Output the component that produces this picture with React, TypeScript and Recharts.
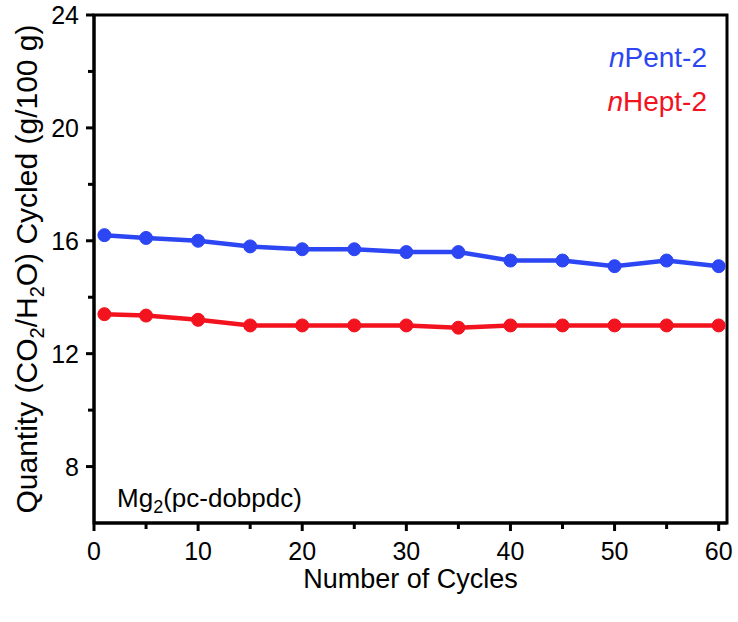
import React from 'react';
import { LineChart, Line, XAxis, YAxis, ReferenceArea, Legend } from 'recharts';

const cycles = [1, 5, 10, 15, 20, 25, 30, 35, 40, 45, 50, 55, 60];
const nPent2 = [16.2, 16.1, 16.0, 15.8, 15.7, 15.7, 15.6, 15.6, 15.3, 15.3, 15.1, 15.3, 15.1];
const nHept2 = [13.4, 13.35, 13.2, 13.0, 13.0, 13.0, 13.0, 12.92, 13.0, 13.0, 13.0, 13.0, 13.0];
const xTicks = [0, 5, 10, 15, 20, 25, 30, 35, 40, 45, 50, 55, 60];
const yTicks = [8, 10, 12, 14, 16, 18, 20, 22, 24];
const xDomain = [0, 60.8];
const yDomain = [6, 24];

const BLUE = '#2b46f2';
const RED = '#f2131f';
const FONT = '"Liberation Sans", Arial, sans-serif';

const data = cycles.map((c, i) => ({ cycle: c, pent: nPent2[i], hept: nHept2[i] }));

const XTick = (props: any) => {
  const { x, y, payload } = props;
  const major = payload.value % 10 === 0;
  return (
    <g>
      <line x1={x} x2={x} y1={y} y2={y + (major ? 8 : 6)} stroke="#000" strokeWidth={3} />
      {major && (
        <text x={x} y={y + 37} textAnchor="middle" fontSize={25} fontFamily={FONT} fill="#000">
          {payload.value}
        </text>
      )}
    </g>
  );
};

const YTick = (props: any) => {
  const { x, y, payload } = props;
  const major = payload.value % 4 === 0;
  return (
    <g>
      <line x1={x - (major ? 8 : 6)} x2={x} y1={y} y2={y} stroke="#000" strokeWidth={3} />
      {major && (
        <text x={x - 15} y={y + 9} textAnchor="end" fontSize={25} fontFamily={FONT} fill="#000">
          {payload.value}
        </text>
      )}
    </g>
  );
};

const YTitle = (props: any) => {
  const vb = props.viewBox;
  const cx = 37;
  const cy = vb.y + vb.height / 2;
  return (
    <text
      x={cx}
      y={cy}
      transform={`rotate(-90, ${cx}, ${cy})`}
      textAnchor="middle"
      fontSize={30}
      fontFamily={FONT}
      fill="#000"
    >
      Quantity (CO
      <tspan dy={7} fontSize={20}>2</tspan>
      <tspan dy={-7}>/H</tspan>
      <tspan dy={7} fontSize={20}>2</tspan>
      <tspan dy={-7}>O) Cycled (g/100 g)</tspan>
    </text>
  );
};

const XTitle = (props: any) => {
  const vb = props.viewBox;
  return (
    <text x={vb.x + vb.width / 2} y={588} textAnchor="middle" fontSize={27} fontFamily={FONT} fill="#000">
      Number of Cycles
    </text>
  );
};

const Annotation = (props: any) => {
  const vb = props.viewBox;
  return (
    <text x={vb.x + 23} y={vb.y + vb.height - 16} fontSize={26} fontFamily={FONT} fill="#000">
      Mg
      <tspan dy={6} fontSize={18}>2</tspan>
      <tspan dy={-6}>(pc-dobpdc)</tspan>
    </text>
  );
};

const LegendContent = () => (
  <div style={{ textAlign: 'right', fontSize: 28, lineHeight: '44px', fontFamily: FONT, whiteSpace: 'nowrap' }}>
    <div style={{ color: BLUE }}>
      <i>n</i>Pent-2
    </div>
    <div style={{ color: RED }}>
      <i>n</i>Hept-2
    </div>
  </div>
);

export default function App() {
  return (
    <div style={{ position: 'absolute', left: 0, top: 0, width: 738, height: 622, background: '#fff' }}>
      <LineChart width={738} height={622} data={data} margin={{ top: 15, right: 11, bottom: 0, left: 34 }}>
        <XAxis
          type="number"
          dataKey="cycle"
          domain={xDomain}
          ticks={xTicks}
          interval={0}
          allowDataOverflow
          height={99}
          tickSize={0}
          tickMargin={0}
          tickLine={false}
          tick={<XTick />}
          axisLine={{ stroke: '#000', strokeWidth: 3 }}
          label={{ content: <XTitle /> }}
        />
        <YAxis
          type="number"
          domain={yDomain}
          ticks={yTicks}
          interval={0}
          allowDataOverflow
          width={60}
          tickSize={0}
          tickMargin={0}
          tickLine={false}
          tick={<YTick />}
          axisLine={{ stroke: '#000', strokeWidth: 3 }}
          label={{ content: <YTitle /> }}
        />
        <ReferenceArea
          x1={xDomain[0]}
          x2={xDomain[1]}
          y1={yDomain[0]}
          y2={yDomain[1]}
          fill="none"
          fillOpacity={0}
          stroke="#000"
          strokeWidth={3}
          ifOverflow="visible"
          label={{ content: <Annotation /> }}
        />
        <Line
          dataKey="pent"
          name="nPent-2"
          stroke={BLUE}
          strokeWidth={4.5}
          dot={{ r: 6.5, fill: BLUE, stroke: BLUE, strokeWidth: 1 }}
          isAnimationActive={false}
        />
        <Line
          dataKey="hept"
          name="nHept-2"
          stroke={RED}
          strokeWidth={4.5}
          dot={{ r: 6.5, fill: RED, stroke: RED, strokeWidth: 1 }}
          isAnimationActive={false}
        />
        <Legend
          layout="vertical"
          align="center"
          verticalAlign="middle"
          content={<LegendContent />}
          wrapperStyle={{ top: 36, left: 'auto', right: 31, width: 'auto', height: 'auto' }}
        />
      </LineChart>
    </div>
  );
}
